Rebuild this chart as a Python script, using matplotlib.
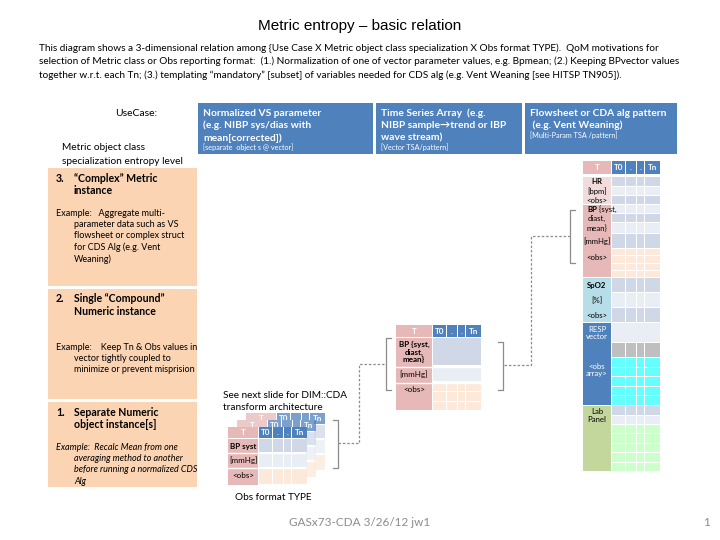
import matplotlib
matplotlib.use("Agg")
import matplotlib.pyplot as plt
from matplotlib.patches import Rectangle

# ---- text content ----
title = "Metric entropy \u2013 basic relation"
intro_lines = [
    "This diagram shows a 3-dimensional relation among {Use Case X Metric object class specialization X Obs format TYPE).  QoM motivations for",
    "selection of Metric class or Obs reporting format:  (1.) Normalization of one of vector parameter values, e.g. Bpmean; (2.) Keeping BPvector values",
    "together w.r.t. each Tn; (3.) templating \u201cmandatory\u201d [subset] of variables needed for CDS alg (e.g. Vent Weaning [see HITSP TN905]).",
]
usecase_titles = [
    ["Normalized VS parameter", "(e.g. NIBP sys/dias with", "mean[corrected])"],
    ["Time Series Array  (e.g.", "NIBP sample\u2192trend or IBP", "wave stream)"],
    ["Flowsheet or CDA alg pattern", " (e.g. Vent Weaning)"],
]
usecase_notes = ["[separate  object s @ vector]", "[Vector TSA/pattern]", "[Multi-Param TSA /pattern]"]
level_heads = [
    ["3.", "\u201cComplex\u201d Metric", "instance"],
    ["2.", "Single \u201cCompound\u201d", "Numeric instance"],
    ["1.", "Separate Numeric", "object instance[s]"],
]
level_examples = [
    ["Example:   Aggregate multi-", "parameter data such as VS", "flowsheet or complex struct", "for CDS Alg (e.g. Vent", "Weaning)"],
    ["Example:    Keep Tn & Obs values in", "vector tightly coupled to", "minimize or prevent misprision"],
    ["Example:  Recalc Mean from one", "averaging method to another", "before running a normalized CDS", "Alg"],
]
time_cols = ["T", "T0", ".", ".", "Tn"]
right_rows = ["HR", "[bpm]", "<obs>", "BP {syst,", "diast,", "mean}", "[mmHg]", "<obs>",
              "SpO2", "[%]", "<obs>", "RESP\nvector", "", "<obs\narray>", "Lab\nPanel", ""]
mid_rows = ["BP {syst,\ndiast,\nmean}", "[mmHg]", "<obs>"]
stack_rows = ["BP syst", "[mmHg]", "<obs>"]
footer = "GASx73-CDA 3/26/12 jw1"
page_no = "1"

BLUE = "#4F81BD"
PINK = "#E6B9B8"
LPINK = "#F2DCDB"
TEAL = "#B7DEE8"
OLIVE = "#C3D69B"
PEACH = "#FBD4B4"
C1 = "#D0D8E8"
C2 = "#E9EDF4"
CP = "#FDE9D9"
GRAY = "#BFBFBF"
CYAN = "#66FFFF"
GREEN = "#CCFFCC"
BODY = "Lato"

fig = plt.figure(figsize=(7.2, 5.4), dpi=100)
ax = fig.add_axes([0, 0, 1, 1])
ax.set_xlim(0, 720)
ax.set_ylim(540, 0)
ax.axis("off")


def box(x0, y0, x1, y1, fc, ec="none", lw=0, z=1, alpha=1):
    ax.add_patch(Rectangle((x0, y0), x1 - x0, y1 - y0, facecolor=fc, edgecolor=ec,
                           linewidth=lw, zorder=z, alpha=alpha))


def txt(x, y, s, size=7, **kw):
    kw.setdefault("family", BODY)
    kw.setdefault("va", "center")
    ax.text(x, y, s, fontsize=size, zorder=10, **kw)


# title and intro
txt(360, 26, title, 11, ha="center", family="Liberation Sans")
for i, line in enumerate(intro_lines):
    txt(39, 48 + i * 13.5, line, 7.2)

# use case header
txt(157, 113, "UseCase:", 7.5, ha="right")
txt(62, 148, "Metric object class", 7.3)
txt(62, 162, "specialization entropy level", 7.3)
hx = [(198, 373), (376, 522), (525, 677)]
for (x0, x1), lines, note in zip(hx, usecase_titles, usecase_notes):
    box(x0, 103, x1, 154, BLUE)
    for j, line in enumerate(lines):
        txt(x0 + 5, 113 + j * 12.5, line, 7.4, color="white", weight="bold")
    txt(x0 + 5, 113 + len(lines) * 12.5 - 3, note, 5.2, color="white")

# left level boxes
ly = [(168, 286), (289, 399), (402, 487)]
ex_y = [213, 347, 447]
for (y0, y1), head, ex, ey, k in zip(ly, level_heads, level_examples, ex_y, range(3)):
    box(48, y0, 197, y1, PEACH)
    txt(56, y0 + 10, head[0], 7.6, weight="bold")
    txt(74, y0 + 10, head[1], 7.6, weight="bold")
    txt(74, y0 + 22.5, head[2], 7.6, weight="bold")
    style = "italic" if k == 2 else "normal"
    for j, line in enumerate(ex):
        txt(56 if j == 0 else 74, ey + j * 11.5, line, 6.5, style=style)

# time column widths
col_w = [14, 11, 8, 16]


def header(xl, xr, y0, y1, size=5.8, alpha=1, z=2):
    box(xl, y0, xr, y1, PINK, z=z, alpha=alpha)
    txt((xl + xr) / 2, (y0 + y1) / 2, time_cols[0], size, ha="center", color="white", weight="bold")
    x = xr
    for w, lab in zip(col_w, time_cols[1:]):
        box(x + 1, y0, x + w, y1, BLUE, z=z, alpha=alpha)
        txt(x + (w + 1) / 2, (y0 + y1) / 2, lab, size, ha="center", color="white", weight="bold")
        x += w
    return x


def cells(xr, y0, y1, fc, nsub=1, split=True, z=2, alpha=1):
    x = xr
    edges = [xr]
    for w in col_w:
        x += w
        edges.append(x)
    if not split:
        box(xr + 1, y0, edges[-1], y1 - 1, fc, z=z, alpha=alpha)
        return
    h = (y1 - y0) / nsub
    for s in range(nsub):
        for a, b in zip(edges[:-1], edges[1:]):
            box(a + 1, y0 + s * h, b, y0 + (s + 1) * h - 1, fc, z=z, alpha=alpha)


# right table
RL, RR = 583, 611
header(RL, RR, 161, 174)
ry = [177, 187, 196, 205, 214, 223, 234, 249, 278, 293, 308, 323, 343, 358, 406, 425, 472]
lab_bg = [LPINK] * 3 + [PINK] * 5 + [TEAL] * 3 + [BLUE] * 3 + [OLIVE] * 2
lab_fg = ["black"] * 11 + ["white"] * 3 + ["black"] * 2
cell_fc = [C1, C2, C1, C2, C1, C2, C1, CP, C1, C2, C1, C2, GRAY, CYAN, C1, GREEN]
nsub = [1] * 7 + [4] + [1] * 5 + [5, 1, 5]
for i, lab in enumerate(right_rows):
    y0, y1 = ry[i], ry[i + 1]
    if i == 14:
        box(RL, y0, RR, ry[16] - 1, lab_bg[i])
    elif i != 15:
        box(RL, y0, RR, y1 - 1 if lab_bg[i] != lab_bg[min(i + 1, 15)] else y1, lab_bg[i])
    fc = cell_fc[i]
    if i == 14:
        cells(RR, y0, y0 + 9.5, C1)
        cells(RR, y0 + 9.5, y1, C2)
    else:
        cells(RR, y0, y1, fc, nsub[i], split=(i != 11))
    if lab:
        bold = lab in ("HR", "SpO2")
        yy = (y0 + y1) / 2
        if i == 7 or i == 13:
            yy = y0 + 8 if i == 7 else y0 + 12
        if lab.startswith("BP"):
            ax.text((RL + RR) / 2, yy, "BP", fontsize=5.6, family=BODY, weight="bold",
                    ha="right", va="center", zorder=10)
            txt((RL + RR) / 2, yy, " {syst,", 5.6, ha="left")
        else:
            txt((RL + RR) / 2, yy, lab, 5.6, ha="center", color=lab_fg[i],
                weight="bold" if bold else "normal", linespacing=1.1)

# middle table
ML, MR = 396, 432
header(ML, MR, 325, 337)
box(ML, 338, MR, 410, PINK)
cells(MR, 338, 366, C1, split=False)
cells(MR, 367, 382, C2, split=False)
cells(MR, 383, 411, CP, 3)
ax.plot([ML, MR + 59], [366.5, 366.5], color="white", lw=1, zorder=3)
ax.plot([ML, MR + 59], [382.5, 382.5], color="white", lw=1, zorder=3)
txt((ML + MR) / 2, 352, mid_rows[0], 5.8, ha="center", weight="bold", linespacing=1.05)
txt((ML + MR) / 2, 374.5, mid_rows[1], 5.8, ha="center")
txt((ML + MR) / 2, 389, mid_rows[2], 5.8, ha="center")

# stacked tables (obs format type)
SL, SR = 228, 258
for k in (2, 1, 0):
    dx, dy = 9 * k, -7 * k
    a = 1 if k == 0 else 0.75
    z = 5 - k
    box(SL + dx, 427 + dy, SR + 47 + dx, 485 + dy, "white", z=z)
    box(SL + dx, 439 + dy, SR + dx, 485 + dy, PINK, z=z, alpha=a)
    x = SR + dx
    box(SL + dx, 427 + dy, SR + dx, 438 + dy, PINK, z=z, alpha=a)
    for w in col_w:
        box(x + 1, 427 + dy, x + w, 438 + dy, BLUE, z=z, alpha=a)
        x += w
    cells(SR + dx, 439 + dy, 453 + dy, C1, z=z, alpha=a)
    cells(SR + dx, 453 + dy, 468 + dy, C2, z=z, alpha=a)
    cells(SR + dx, 468 + dy, 485 + dy, CP, z=z, alpha=a)
    for yl in (453, 468):
        ax.plot([SL + dx, SR + 47 + dx], [yl + dy, yl + dy], color="white", lw=1, zorder=z)
    fz = 11 if k == 0 else z + 0.5
    ax.text((SL + SR) / 2 + dx, 432.5 + dy, time_cols[0], fontsize=5.8, color="white",
            weight="bold", family=BODY, ha="center", va="center", zorder=fz)
    x = SR + dx
    for w, lab in zip(col_w, time_cols[1:]):
        ax.text(x + (w + 1) / 2, 432.5 + dy, lab, fontsize=5.8, color="white", weight="bold",
                family=BODY, ha="center", va="center", zorder=fz)
        x += w
txt((SL + SR) / 2, 446, stack_rows[0], 5.8, ha="center", weight="bold")
txt((SL + SR) / 2, 460.5, stack_rows[1], 5.8, ha="center")
txt((SL + SR) / 2, 476, stack_rows[2], 5.8, ha="center")

txt(223, 395, "See next slide for DIM::CDA", 7.2)
txt(223, 407, "transform architecture", 7.2)
txt(235, 497, "Obs format TYPE", 7.2)

# brackets and dashed connectors
BR = "#8C8C8C"


def bracket(x, y0, y1, side):
    d = 5 if side == "left" else -5
    ax.plot([x + d, x, x, x + d], [y0, y0, y1, y1], color=BR, lw=0.9, zorder=6)


bracket(570, 210, 263, "left")
bracket(386, 338, 390, "left")
bracket(503, 342, 390, "right")
bracket(338, 420, 468, "right")
dash = dict(color=BR, lw=0.9, ls=(0, (2, 1.5)), zorder=6)
ax.plot([570, 531, 531, 503], [236, 236, 365, 365], **dash)
ax.plot([338, 359, 359, 386], [443, 443, 364, 364], **dash)

# footer
txt(360, 522, footer, 8.5, ha="center", color="#8C8C8C")
txt(706, 522, page_no, 8.5, ha="center", color="#8C8C8C")

fig.savefig("out.png", dpi=100)
